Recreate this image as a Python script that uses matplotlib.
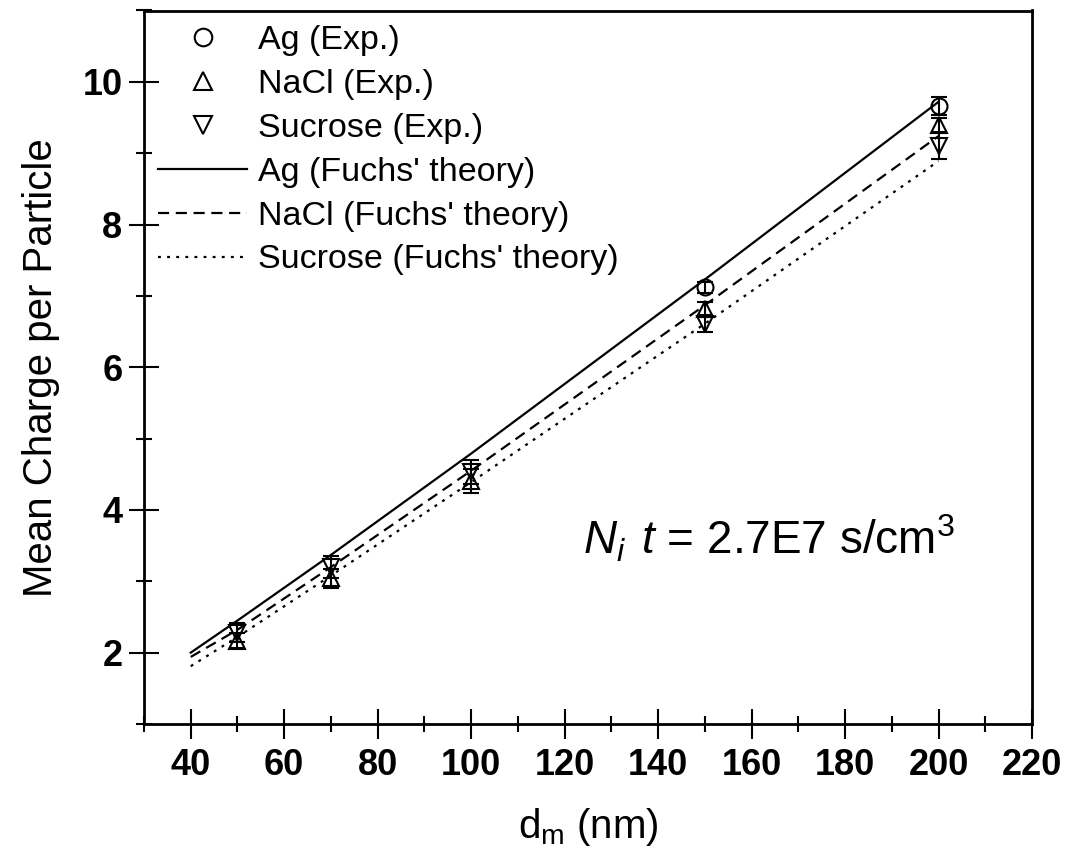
import matplotlib
matplotlib.use("Agg")
import matplotlib.pyplot as plt
from matplotlib.ticker import MultipleLocator

plt.rcParams['font.family'] = ['Liberation Sans', 'DejaVu Sans']
plt.rcParams['mathtext.fontset'] = 'custom'
plt.rcParams['mathtext.rm'] = 'Liberation Sans'
plt.rcParams['mathtext.it'] = 'Liberation Sans:italic'
plt.rcParams['mathtext.bf'] = 'Liberation Sans:bold'

# Experimental mean charge (markers with error bars)
ag_d = [150, 200]
ag_q = [7.12, 9.66]
ag_err = [0.08, 0.13]

nacl_d = [50, 70, 100, 150, 200]
nacl_q = [2.17, 3.04, 4.41, 6.82, 9.40]
nacl_err = [0.10, 0.13, 0.17, 0.09, 0.10]

suc_d = [50, 70, 100, 150, 200]
suc_q = [2.28, 3.20, 4.53, 6.60, 9.10]
suc_err = [0.13, 0.15, 0.17, 0.11, 0.18]

# Fuchs' theory curves
th_d = [40, 50, 70, 100, 150, 200]
th_ag = [2.00, 2.45, 3.37, 4.79, 7.23, 9.72]
th_nacl = [1.94, 2.32, 3.20, 4.55, 6.87, 9.24]
th_suc = [1.81, 2.22, 3.08, 4.39, 6.61, 8.89]

fig = plt.figure(figsize=(10.70, 8.67), dpi=100)
ax = fig.add_axes([144 / 1070, 1 - 724 / 867, (1032 - 144) / 1070, (724 - 10.5) / 867])

lw = 1.6
ax.plot(th_d, th_ag, color='black', lw=lw, ls='-', label="Ag (Fuchs' theory)", zorder=2)
ax.plot(th_d, th_nacl, color='black', lw=lw, ls=(0, (5, 3)), label="NaCl (Fuchs' theory)", zorder=2)
ax.plot(th_d, th_suc, color='black', lw=lw, ls=(0, (1.3, 2.8)), label="Sucrose (Fuchs' theory)", zorder=2)

ms = 11.5
eb = dict(fmt='none', ecolor='black', elinewidth=1.5, capsize=5.5, capthick=1.5, zorder=3)
ax.errorbar(ag_d, ag_q, yerr=ag_err, **eb)
ax.errorbar(nacl_d, nacl_q, yerr=nacl_err, **eb)
ax.errorbar(suc_d, suc_q, yerr=suc_err, **eb)

mk = dict(ls='none', mfc='none', mec='black', mew=1.5, ms=ms, zorder=4)
ax.plot(ag_d, ag_q, marker='o', label='Ag (Exp.)', **mk)
ax.plot(nacl_d, nacl_q, marker='^', label='NaCl (Exp.)', **mk)
ax.plot(suc_d, suc_q, marker='v', label='Sucrose (Exp.)', **mk)

handles, labels = ax.get_legend_handles_labels()
order = [3, 4, 5, 0, 1, 2]
ax.legend([handles[i] for i in order], [labels[i] for i in order],
          loc='upper left', bbox_to_anchor=(0.0, 1.0), frameon=False,
          fontsize=24.5, handlelength=2.6, handletextpad=0.32,
          labelspacing=0.38, borderaxespad=0.2, borderpad=0.22,
          markerscale=1.1)

ax.set_xlim(30, 220)
ax.set_ylim(1, 11)
ax.xaxis.set_minor_locator(MultipleLocator(10))
ax.yaxis.set_minor_locator(MultipleLocator(1))
ax.set_xticks([40, 60, 80, 100, 120, 140, 160, 180, 200, 220])
ax.set_yticks([2, 4, 6, 8, 10])

ax.tick_params(which='major', direction='inout', length=21, width=1.5,
               labelsize=26, top=False, right=False)
ax.tick_params(which='minor', direction='inout', length=12, width=1.5,
               top=False, right=False)
ax.tick_params(axis='x', which='major', pad=7)
ax.tick_params(axis='y', which='major', pad=5)
for lab in ax.get_xticklabels() + ax.get_yticklabels():
    lab.set_fontweight('bold')

for s in ax.spines.values():
    s.set_linewidth(2.0)

ax.set_xlabel(r'd$_\mathrm{m}$ (nm)', fontsize=29, labelpad=16)
ax.set_ylabel('Mean Charge per Particle', fontsize=29, labelpad=16)

ax.text(124.0, 3.37, r'$N_i\;\,t$ = 2.7E7 s/cm$^3$', fontsize=33,
        ha='left', va='baseline')

fig.savefig('out.png', dpi=100)
